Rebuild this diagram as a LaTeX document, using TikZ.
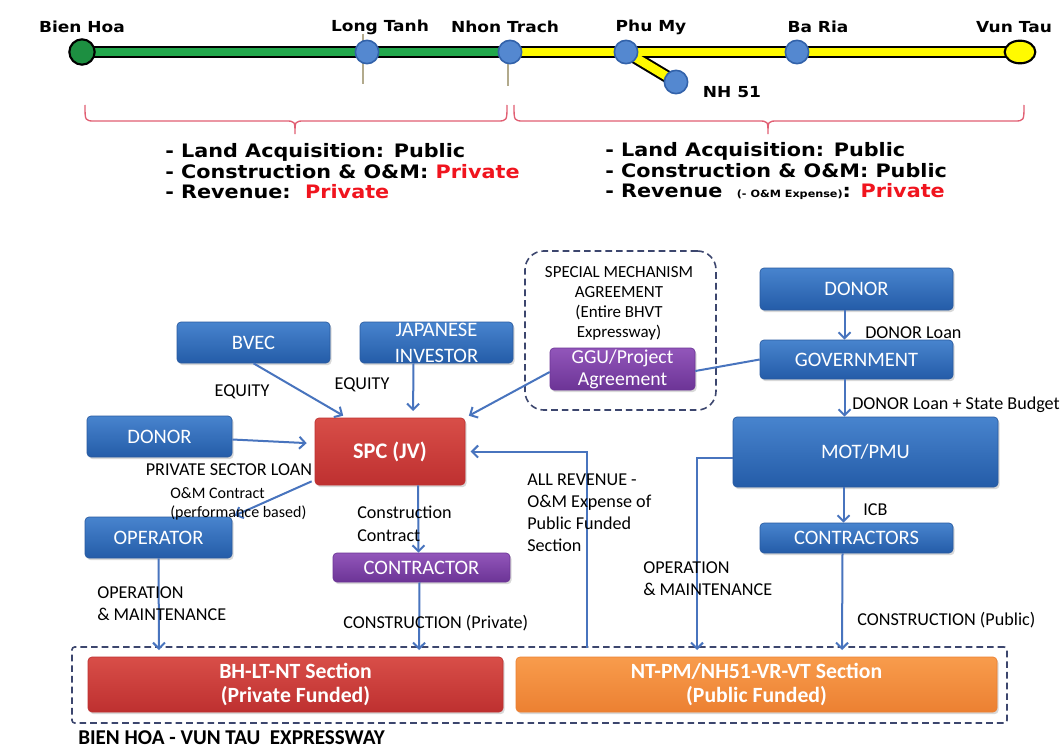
\documentclass[tikz,border=0pt]{standalone}
\usepackage{fontspec}
\setmainfont{Carlito}
\newfontfamily\mapfont{DejaVu Sans}[FakeStretch=1.12]
\usetikzlibrary{arrows.meta,calc,shadows,shapes.geometric}

\definecolor{bxT}{RGB}{72,132,206}
\definecolor{bxB}{RGB}{36,92,168}
\definecolor{bxE}{RGB}{40,90,160}
\definecolor{rdT}{RGB}{216,78,72}
\definecolor{rdB}{RGB}{190,48,48}
\definecolor{ppT}{RGB}{146,86,186}
\definecolor{ppB}{RGB}{108,52,150}
\definecolor{orT}{RGB}{248,156,76}
\definecolor{orB}{RGB}{236,128,50}
\definecolor{lnC}{RGB}{72,116,190}
\definecolor{dashC}{RGB}{60,70,110}
\definecolor{roadG}{RGB}{34,168,76}
\definecolor{roadY}{RGB}{255,250,0}
\definecolor{stopB}{RGB}{84,136,208}
\definecolor{stopE}{RGB}{50,98,170}
\definecolor{braceC}{RGB}{225,95,115}
\definecolor{tickC}{RGB}{178,170,140}
\definecolor{hiRed}{RGB}{240,20,30}

\newcommand{\mapsz}{\fontsize{11.4}{13}\selectfont}
\newcommand{\listsz}{\fontsize{13.9}{15}\selectfont}
\newcommand{\boxsz}{\fontsize{15.4}{19.5}\selectfont}
\newcommand{\lblsz}{\fontsize{13.6}{16.5}\selectfont}

\tikzset{
  sz/.style 2 args={minimum width=#1*0.75pt, minimum height=#2*0.75pt},
  box/.style={rounded corners=3pt, inner sep=0pt, align=center, text=white,
    font=\boxsz, drop shadow={opacity=0.3, shadow xshift=1.2pt, shadow yshift=-1.6pt}},
  bluebox/.style={box, top color=bxT, bottom color=bxB, draw=bxE, line width=0.5pt},
  redbox/.style={box, top color=rdT, bottom color=rdB, draw=rdB, line width=0.5pt},
  purplebox/.style={box, top color=ppT, bottom color=ppB, draw=ppB, line width=0.5pt},
  orangebox/.style={box, top color=orT, bottom color=orB, draw=orB, line width=0.5pt},
  dashbox/.style={draw=dashC, dashed, dash pattern=on 5pt off 3pt, line width=1.2pt, inner sep=0pt},
  flow/.style={draw=lnC, line width=1.5pt, -{Straight Barb[length=4.5pt,width=9pt,line width=1.5pt]}},
  plainline/.style={draw=lnC, line width=1.5pt},
  lbl/.style={font=\lblsz, inner sep=0pt, anchor=west, align=left},
  maplabel/.style={font=\mapfont\bfseries\mapsz, inner sep=0pt},
  listline/.style={font=\mapfont\bfseries\listsz, inner sep=0pt, anchor=west},
  stop/.style={circle, fill=stopB, draw=stopE, line width=1.2pt, minimum size=17.5pt, inner sep=0pt},
}

\begin{document}
\begin{tikzpicture}[x=0.75pt,y=-0.75pt]
\useasboundingbox (0,0) rectangle (1064,749);
\fill[white] (0,0) rectangle (1064,749);

% ---------------- route map ----------------
\coordinate (bh) at (82,52);
\coordinate (nt) at (510,52);
\coordinate (pm) at (626,52);
\coordinate (nh) at (676,82);
\coordinate (vt) at (1020,52);

% section boundary ticks
\draw[tickC, line width=2pt] (363,34) -- (363,84);
\draw[tickC, line width=2pt] (508,60) -- (508,86);

% road bodies
\draw[black, line width=9.5pt] (bh) -- (vt);
\draw[black, line width=9.5pt, line cap=round] (pm) -- (nh);
\draw[roadG, line width=6.5pt] (bh) -- (nt);
\draw[roadY, line width=6.5pt] (nt) -- (vt);
\draw[roadY, line width=6.5pt] (pm) -- (nh);

% stops
\node[circle, fill=roadG!85!black, draw=black, line width=1.6pt, minimum size=19pt, inner sep=0pt] (sBH) at (bh) {};
\node[stop] (sLT) at (367,52) {};
\node[stop] (sNT) at (nt) {};
\node[stop] (sPM) at (pm) {};
\node[stop] (sBR) at (797,52) {};
\node[stop] (sNH) at (nh) {};
\node[ellipse, fill=roadY, draw=black, line width=1.6pt, minimum width=23pt, minimum height=17pt, inner sep=0pt] (sVT) at (vt) {};

% stop names
\node[maplabel] (nBH) at (82,27) {Bien Hoa};
\node[maplabel] (nLT) at (380,27) {Long Tanh};
\node[maplabel] (nNT) at (505,27) {Nhon Trach};
\node[maplabel] (nPM) at (651,27) {Phu My};
\node[maplabel] (nBR) at (818,27) {Ba Ria};
\node[maplabel] (nVT) at (1014,27) {Vun Tau};
\node[maplabel] (nNH) at (732,92) {NH 51};

% braces under the two sections
\draw[braceC, line width=1pt]
  (85,105) .. controls (85,121) .. (95,121) -- (285,121)
  .. controls (295,121) .. (295,134) .. controls (295,121) .. (305,121)
  -- (497,121) .. controls (507,121) .. (507,105);
\draw[braceC, line width=1pt]
  (514,105) .. controls (514,121) .. (524,121) -- (758,121)
  .. controls (768,121) .. (768,134) .. controls (768,121) .. (778,121)
  -- (1014,121) .. controls (1024,121) .. (1024,105);

% responsibility lists
\node[listline] (l1) at (165,152) {- Land Acquisition: Public};
\node[listline] (l2) at (165,172) {- Construction \& O\&M: \textcolor{hiRed}{Private}};
\node[listline] (l3) at (165,192) {- Revenue:\ \ \textcolor{hiRed}{Private}};
\node[listline] (r1) at (605,151) {- Land Acquisition: Public};
\node[listline] (r2) at (605,171) {- Construction \& O\&M: Public};
\node[listline] (r3) at (605,191) {- Revenue\ \ {\fontsize{7.5}{8}\selectfont(- O\&M Expense)}: \textcolor{hiRed}{Private}};

% ---------------- institutional structure ----------------
\node[dashbox, rounded corners=14pt, sz={191}{159}] (agree) at (620.5,330.5) {};
\node[font=\fontsize{12.7}{15}\selectfont, align=center, inner sep=0pt] (agreeTxt) at (619,303)
  {SPECIAL MECHANISM\\AGREEMENT\\(Entire BHVT\\Expressway)};
\node[dashbox, rounded corners=2pt, sz={935}{76}] (expw) at (539.5,685) {};

\node[bluebox, sz={153}{41}] (bvec) at (253.5,342.5) {BVEC};
\node[bluebox, sz={153}{41}] (jap) at (436.5,342.5) {JAPANESE\\INVESTOR};
\node[purplebox, sz={145}{42}, font=\fontsize{14.8}{16.5}\selectfont] (ggu) at (622.5,369) {GGU/Project\\Agreement};
\node[bluebox, sz={193}{42}] (donorR) at (856.5,289) {DONOR};
\node[bluebox, sz={193}{39}] (gov) at (856.5,359.5) {GOVERNMENT};
\node[bluebox, sz={265}{70}] (mot) at (865.5,452) {MOT/PMU};
\node[bluebox, sz={145}{41}] (donorL) at (159.5,436.5) {DONOR};
\node[redbox, sz={150}{67}, font=\fontsize{16.7}{19}\selectfont\bfseries] (spc) at (390,451.5) {SPC (JV)};
\node[bluebox, sz={147}{41}] (oper) at (158.5,537.5) {OPERATOR};
\node[purplebox, sz={177}{29}] (contr) at (421.5,567.5) {CONTRACTOR};
\node[bluebox, sz={193}{30}] (contrs) at (856.5,538) {CONTRACTORS};
\node[redbox, sz={415}{55}, font=\fontsize{16.3}{18.7}\selectfont\bfseries] (priv) at (295.5,684.5) {BH-LT-NT Section\\(Private Funded)};
\node[orangebox, sz={481}{55}, font=\fontsize{16.3}{18.7}\selectfont\bfseries] (pub) at (756.5,684.5) {NT-PM/NH51-VR-VT Section\\(Public Funded)};

% free ends of connectors
\coordinate (revEnd) at (587,648);
\coordinate (omEnd) at (697,650);
\coordinate (opEnd) at (159,650);
\coordinate (ctEnd) at (419,650);
\coordinate (csEnd) at (842,650);

% connectors
\draw[flow, shorten >=3pt] (bvec.south) -- ($(spc.north west)+(32,0)$);
\draw[flow, shorten >=5pt] ($(jap.south)+(-23,0)$) -- ($(spc.north)+(23,0)$);
\draw[flow, shorten >=3pt] ($(ggu.west)+(0,3)$) -- (spc.north east);
\draw[plainline] ($(ggu.east)+(0,2)$) -- (gov.west);
\draw[flow, shorten >=6pt] ($(donorL.east)+(0,3)$) -- ($(spc.west)+(0,-8)$);
\draw[flow, shorten >=2pt] ($(spc.south west)+(-3,-4)$) -- (oper.north east);
\draw[flow] ($(spc.south)+(28,0)$) -- ($(contr.north)+(-3,0)$);
\draw[flow] (oper.south) -- (opEnd);
\draw[flow] ($(contr.south)+(-2,0)$) -- (ctEnd);
\draw[flow, shorten >=4pt] (revEnd) |- (spc.east);
\draw[flow] ($(mot.west)+(0,6)$) -| (omEnd);
\draw[flow] ($(donorR.south)+(-12,0)$) -- ($(gov.north)+(-12,0)$);
\draw[flow] ($(gov.south)+(-12,0)$) -- ($(mot.north)+(-21,0)$);
\draw[flow] ($(mot.south)+(-22,0)$) -- ($(contrs.north)+(-13,0)$);
\draw[flow] ($(contrs.south)+(-14,0)$) -- (csEnd);

% connector labels
\node[lbl, anchor=center] (eq1) at (242,392) {EQUITY};
\node[lbl, anchor=center] (eq2) at (362,385) {EQUITY};
\node[lbl, anchor=center] (psl) at (229,470) {PRIVATE SECTOR LOAN};
\node[lbl, font=\fontsize{12}{14.3}\selectfont] (omc) at (170,503.5) {O\&M Contract\\(performance based)};
\node[lbl, font=\fontsize{13.6}{17.2}\selectfont] (cc) at (357,523.5) {Construction\\Contract};
\node[lbl] (om1) at (97,604) {OPERATION\\\& MAINTENANCE};
\node[lbl] (cpriv) at (343,623) {CONSTRUCTION (Private)};
\node[lbl] (rev) at (527,513) {ALL REVENUE -\\O\&M Expense of\\Public Funded\\Section};
\node[lbl] (om2) at (643,579) {OPERATION\\\& MAINTENANCE};
\node[lbl] (icb) at (863,510) {ICB};
\node[lbl] (cpub) at (857,620) {CONSTRUCTION (Public)};
\node[lbl] (dl) at (865,333) {DONOR Loan};
\node[lbl] (dls) at (852,405) {DONOR Loan + State Budget};
\node[lbl, font=\fontsize{15.8}{18}\selectfont\bfseries] (title) at (78,738) {BIEN HOA - VUN TAU\ \ EXPRESSWAY};
\end{tikzpicture}
\end{document}
